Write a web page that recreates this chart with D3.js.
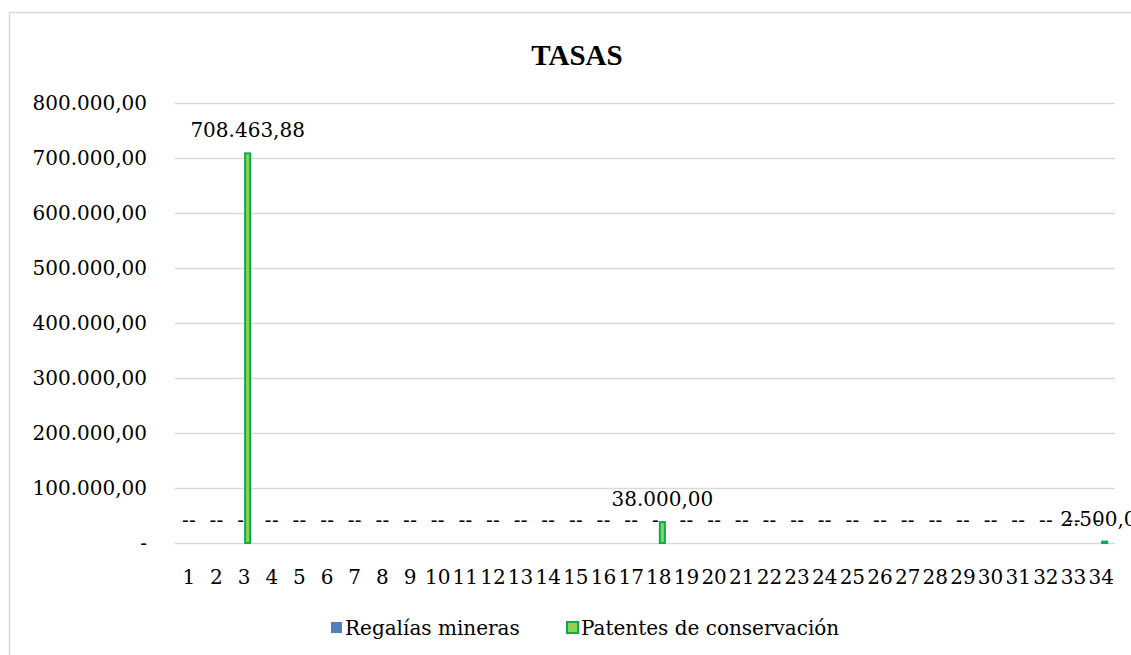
<!DOCTYPE html>
<meta charset="utf-8">
<style>
  body { margin: 0; background: #fff; }
  text { font-family: "DejaVu Serif", serif; }
</style>
<svg width="1131" height="655"></svg>
<script src="https://cdn.jsdelivr.net/npm/d3@7"></script>
<script>

var categories = d3.range(1, 35).map(String);
var seriesNames = ["Regalías mineras", "Patentes de conservación"];
var regalias = [0,0,0,0,0,0,0,0,0,0,0,0,0,0,0,0,0,0,0,0,0,0,0,0,0,0,0,0,0,0,0,0,0,0];
var patentes = [0,0,708463.88,0,0,0,0,0,0,0,0,0,0,0,0,0,0,38000,0,0,0,0,0,0,0,0,0,0,0,0,0,0,0,2500];
var yTicks = [0,100000,200000,300000,400000,500000,600000,700000,800000];

var fills = ["#4f81bd", "#92d050"];
var strokes = ["none", "#00b050"];

var svg = d3.select("svg");

var plotLeft = 175, plotRight = 1115, plotTop = 103, plotBottom = 543;

// chart frame
svg.append("rect")
    .attr("x", 9.5).attr("y", 12.5)
    .attr("width", 1200).attr("height", 700)
    .attr("fill", "none").attr("stroke", "#d9d9d9").attr("stroke-width", 1.5);

var x0 = d3.scaleBand().domain(categories).range([plotLeft, plotRight])
    .paddingInner(0.49).paddingOuter(0.245);
var x1 = d3.scaleBand().domain([0, 1]).range([0, x0.bandwidth()]);
var y = d3.scaleLinear().domain([0, 800000]).range([plotBottom, plotTop]);

var fmt = d3.formatLocale({decimal: ",", thousands: ".", grouping: [3], currency: ["", ""]}).format(",.2f");
function label(v) { return v === 0 ? "-" : fmt(v); }

// gridlines
svg.append("g").selectAll("line").data(yTicks).join("line")
    .attr("x1", plotLeft).attr("x2", plotRight)
    .attr("y1", function(d) { return Math.round(y(d)) + 0.5; })
    .attr("y2", function(d) { return Math.round(y(d)) + 0.5; })
    .attr("stroke", "#d9d9d9").attr("stroke-width", 1.5);

// y axis labels
svg.append("g").selectAll("text").data(yTicks).join("text")
    .attr("x", 147).attr("y", function(d) { return y(d); })
    .attr("dy", "0.35em").attr("text-anchor", "end")
    .attr("font-size", 20).attr("fill", "#000")
    .text(label);

// title
svg.append("text").attr("x", 577).attr("y", 65)
    .attr("text-anchor", "middle")
    .style("font-family", "'Liberation Serif', serif")
    .attr("font-size", 29).attr("font-weight", "bold")
    .text("TASAS");

var rows = categories.map(function(c, i) { return {cat: c, vals: [regalias[i], patentes[i]]}; });

var groups = svg.append("g").selectAll("g").data(rows).join("g")
    .attr("transform", function(d) { return "translate(" + x0(d.cat) + ",0)"; });

groups.selectAll("rect").data(function(d) { return d.vals.map(function(v, s) { return {v: v, s: s}; }).filter(function(e) { return e.v > 0; }); })
  .join("rect")
    .attr("x", function(d) { return x1(d.s) + 1; })
    .attr("width", x1.bandwidth() - 2)
    .attr("y", function(d) { return y(d.v); })
    .attr("height", function(d) { return y(0) - y(d.v); })
    .attr("fill", function(d) { return fills[d.s]; })
    .attr("stroke", function(d) { return strokes[d.s]; })
    .attr("stroke-width", 2);

groups.selectAll("text").data(function(d) { return d.vals.map(function(v, s) { return {v: v, s: s}; }); })
  .join("text")
    .attr("x", function(d) { return x1(d.s) + x1.bandwidth() / 2; })
    .attr("y", function(d) { return y(d.v) - 23; })
    .attr("dy", "0.35em").attr("text-anchor", "middle")
    .attr("font-size", 20).attr("fill", "#000")
    .text(function(d) { return label(d.v); });

// x axis labels
svg.append("g").selectAll("text").data(categories).join("text")
    .attr("x", function(d) { return x0(d) + x0.bandwidth() / 2; })
    .attr("y", 577).attr("dy", "0.35em").attr("text-anchor", "middle")
    .attr("font-size", 20).attr("fill", "#000")
    .text(function(d) { return d; });

// legend
var legendX = [330, 566];
var legend = svg.append("g").selectAll("g").data(seriesNames).join("g")
    .attr("transform", function(d, i) { return "translate(" + legendX[i] + ",628)"; });
legend.append("rect")
    .attr("x", 1).attr("y", -6).attr("width", 11).attr("height", 11)
    .attr("fill", function(d, i) { return fills[i]; })
    .attr("stroke", function(d, i) { return strokes[i]; })
    .attr("stroke-width", 2);
legend.append("text")
    .attr("x", 15).attr("dy", "0.35em")
    .attr("font-size", 20).attr("fill", "#000")
    .text(function(d) { return d; });

</script>
